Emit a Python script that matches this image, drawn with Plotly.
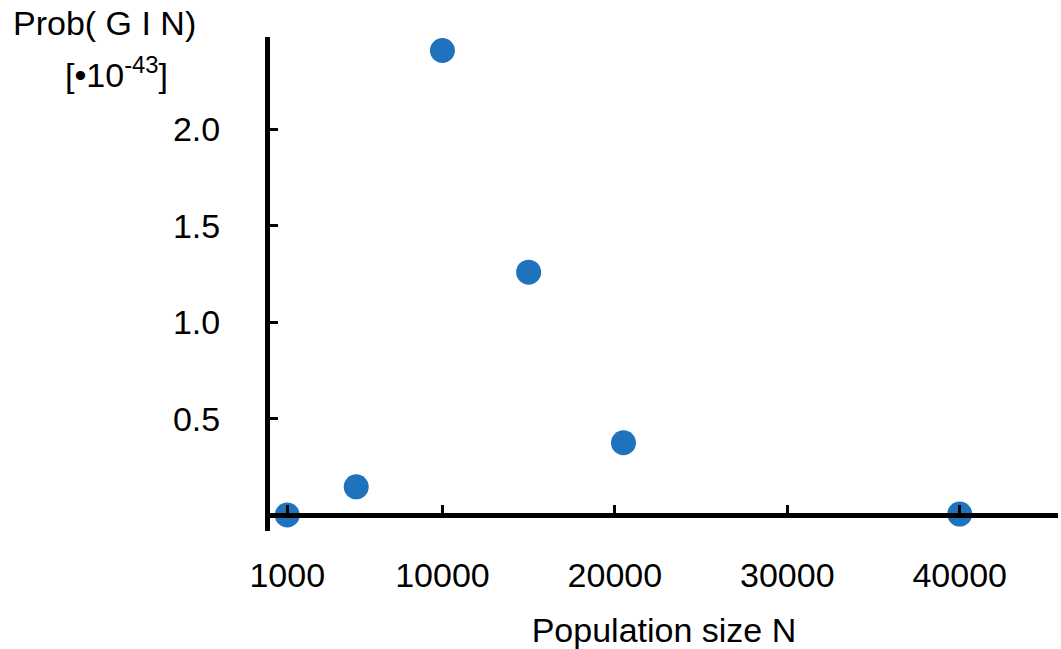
import plotly.graph_objects as go

# Data
pop_size = [1000, 5000, 10000, 15000, 20500, 40000]
prob = [0.0, 0.146, 2.41, 1.26, 0.375, 0.005]  # units of 1e-43

x_tickvals = [1000, 10000, 20000, 30000, 40000]
x_ticktext = ["1000", "10000", "20000", "30000", "40000"]
y_tickvals = [0.5, 1.0, 1.5, 2.0]
y_ticktext = ["0.5", "1.0", "1.5", "2.0"]

FONT = "Liberation Sans, Arial, Helvetica, sans-serif"
FS = 34

y_range = [-0.083, 2.48]
x_range = [0, 45700]

fig = go.Figure()
fig.add_trace(go.Scatter(
    x=pop_size, y=prob, mode="markers",
    marker=dict(size=25, color="#1f73bc", line=dict(width=0)),
    cliponaxis=False, showlegend=False,
))

xpos = (0 - y_range[0]) / (y_range[1] - y_range[0])
plot_w = 1061 - 270 - 3
plot_h = 649 - 37 - 118

fig.update_layout(
    width=1061, height=649,
    margin=dict(l=270, r=3, t=37, b=118, autoexpand=False),
    paper_bgcolor="white", plot_bgcolor="white",
    font=dict(family=FONT, size=FS, color="black"),
    xaxis=dict(
        range=x_range, tickvals=x_tickvals, ticktext=x_ticktext,
        showgrid=False, zeroline=False, automargin=False,
        showline=True, linecolor="black", linewidth=5,
        ticks="inside", ticklen=8, tickwidth=3, tickcolor="black",
        anchor="free", position=xpos,
        ticklabelstandoff=28,
        title=dict(text="Population size N", standoff=26, font=dict(size=FS)),
    ),
    yaxis=dict(
        range=y_range, tickvals=y_tickvals, ticktext=y_ticktext,
        showgrid=False, zeroline=False, automargin=False,
        showline=True, linecolor="black", linewidth=5,
        ticks="inside", ticklen=8, tickwidth=3, tickcolor="black",
        ticklabelstandoff=38,
    ),
    annotations=[
        dict(text="Prob( G I N)", xref="paper", yref="paper",
             x=(-270 + 11) / plot_w, y=1 + (37 - 2) / plot_h,
             xanchor="left", yanchor="top", showarrow=False,
             font=dict(size=FS)),
        dict(text="[•10<sup>-43</sup>]", xref="paper", yref="paper",
             x=(-270 + 116) / plot_w, y=1 + (37 - 49) / plot_h,
             xanchor="center", yanchor="top", showarrow=False,
             font=dict(size=FS)),
    ],
)

fig.write_html("out.html", config={"displayModeBar": False},
               post_script="document.body.style.margin='0';document.body.style.overflow='hidden';")
